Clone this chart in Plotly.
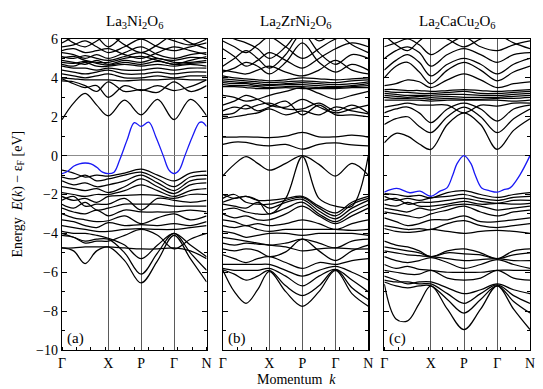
import plotly.graph_objects as go

# k-path positions (fraction of path length) and tick labels
K = [0.0, 0.08, 0.16, 0.24, 0.32, 0.433, 0.547, 0.661, 0.775, 0.8875, 1.0]
TICK_POS = [0.0, 0.32, 0.547, 0.775, 1.0]
TICK_LABELS = ["Γ", "X", "P", "Γ", "N"]
TITLES = ["La<sub>3</sub>Ni<sub>2</sub>O<sub>6</sub>",
          "La<sub>2</sub>ZrNi<sub>2</sub>O<sub>6</sub>",
          "La<sub>2</sub>CaCu<sub>2</sub>O<sub>6</sub>"]
PANEL_TAGS = ["(a)", "(b)", "(c)"]

# ---- panel (a) La3Ni2O6 ----
BANDS_A = [
    [6.2, 5.8, 5.6, 5.9, 6.2, 5.7, 5.3, 5.7, 6.2, 5.8, 5.5],
    [5.8, 6.1, 6.3, 6.1, 5.6, 6.2, 6.4, 6.2, 5.9, 5.7, 6.0],
    [5.6, 5.7, 5.9, 5.6, 5.3, 5.6, 6.0, 5.6, 5.4, 5.6, 5.8],
    [5.4, 5.5, 5.3, 5.4, 5.5, 5.2, 5.0, 5.3, 5.6, 5.4, 5.2],
    [5.3, 5.2, 5.0, 5.2, 5.0, 5.3, 5.6, 5.2, 5.0, 5.2, 5.3],
    [5.1, 5.0, 5.15, 5.0, 4.9, 5.1, 5.3, 5.0, 4.9, 5.05, 5.0],
    [5.0, 5.1, 4.9, 4.8, 4.8, 5.0, 5.1, 4.9, 4.7, 4.9, 5.1],
    [4.9, 4.8, 4.7, 4.9, 4.7, 4.9, 4.8, 5.0, 4.8, 4.8, 4.9],
    [4.8, 4.75, 4.85, 4.75, 4.65, 4.8, 4.7, 4.85, 4.7, 4.75, 4.8],
    [4.7, 4.6, 4.8, 4.6, 4.6, 4.7, 4.6, 4.7, 4.6, 4.7, 4.6],
    [4.6, 4.5, 4.5, 4.4, 4.5, 4.4, 4.4, 4.5, 4.4, 4.5, 4.5],
    [4.4, 4.3, 4.2, 4.3, 4.4, 4.2, 4.2, 4.3, 4.2, 4.3, 4.3],
    [4.2, 4.1, 4.0, 4.1, 4.2, 4.0, 4.0, 4.1, 4.0, 4.1, 4.1],
    [4.0, 3.95, 3.9, 3.9, 3.9, 3.85, 3.9, 3.9, 3.95, 3.9, 3.9],
    [3.95, 3.7, 3.5, 3.6, 3.0, 3.6, 3.35, 3.6, 3.35, 3.55, 3.9],
    [3.85, 3.8, 3.6, 3.3, 3.8, 3.3, 3.4, 3.25, 3.8, 3.3, 3.6],
    [1.85, 2.7, 3.2, 2.6, 2.05, 2.85, 2.1, 2.9, 1.85, 2.9, 2.05],
    [-0.75, -0.9, -1.1, -1.0, -1.05, -0.9, -0.7, -1.0, -1.3, -0.9, -0.8],
    [-1.1, -1.2, -1.0, -1.3, -1.2, -1.0, -0.85, -1.2, -1.6, -1.1, -1.0],
    [-1.3, -1.5, -1.4, -1.6, -1.5, -1.3, -1.0, -1.4, -1.8, -1.3, -1.2],
    [-1.6, -1.7, -1.8, -1.7, -1.9, -1.6, -1.2, -1.6, -1.95, -1.5, -1.4],
    [-1.9, -2.0, -2.1, -2.0, -2.0, -1.8, -1.5, -1.8, -2.1, -1.8, -1.7],
    [-2.1, -2.3, -2.2, -2.4, -2.1, -2.05, -2.0, -2.05, -2.2, -2.0, -2.0],
    [-2.3, -2.1, -2.6, -2.5, -2.5, -2.2, -2.8, -2.2, -2.3, -2.4, -2.3],
    [-2.5, -2.7, -2.4, -2.8, -2.7, -2.5, -2.5, -2.5, -2.6, -2.6, -2.6],
    [-2.7, -2.9, -3.0, -2.8, -3.1, -2.8, -2.9, -2.9, -2.9, -2.8, -2.9],
    [-3.0, -3.2, -3.3, -3.4, -3.35, -3.1, -3.5, -3.2, -3.0, -3.3, -3.1],
    [-3.3, -3.4, -3.6, -3.7, -3.45, -3.6, -3.55, -3.6, -3.5, -3.6, -3.4],
    [-3.6, -3.7, -3.8, -3.9, -3.9, -3.8, -3.75, -3.8, -3.8, -3.7, -3.6],
    [-3.9, -4.0, -4.0, -4.1, -4.25, -4.6, -5.3, -4.6, -4.0, -4.6, -5.2],
    [-4.0, -4.2, -4.4, -4.3, -4.3, -5.0, -6.1, -5.0, -4.0, -5.0, -5.9],
    [-4.75, -4.9, -5.55, -4.9, -4.7, -5.4, -6.55, -5.4, -4.1, -5.3, -6.5],
    [-4.75, -4.75, -4.7, -4.7, -4.7, -4.75, -4.8, -4.8, -4.75, -4.9, -5.3],
    [-4.1, -4.2, -4.5, -4.4, -4.4, -4.1, -3.8, -4.1, -4.8, -4.3, -4.0],
]
BLUE_A_K = [0.0, 0.04, 0.08, 0.12, 0.16, 0.2, 0.24, 0.28, 0.32, 0.36, 0.4, 0.45,
            0.5, 0.547, 0.6, 0.65, 0.7, 0.74, 0.775, 0.81, 0.85, 0.9, 0.95, 0.97, 1.0]
BLUE_A = [-0.93, -0.8, -0.55, -0.42, -0.38, -0.42, -0.6, -0.85, -0.93, -0.85, -0.2, 0.8,
          1.7, 1.5, 1.72, 0.95, 0.0, -0.75, -0.93, -0.75, 0.0, 0.95, 1.7, 1.72, 1.5]

# ---- panel (b) La2ZrNi2O6 ----
BANDS_B = [
    [6.3, 6.0, 5.8, 5.5, 5.0, 5.6, 6.5, 5.9, 6.3, 5.7, 5.3],
    [5.9, 5.6, 5.3, 5.7, 6.1, 5.6, 5.0, 5.5, 6.0, 6.2, 6.0],
    [5.5, 5.1, 4.6, 4.9, 5.3, 4.9, 4.5, 5.0, 5.5, 5.8, 5.6],
    [4.6, 5.0, 5.4, 5.0, 4.5, 5.2, 6.3, 5.3, 4.7, 5.2, 5.0],
    [4.3, 4.5, 4.8, 4.6, 4.2, 4.8, 5.8, 4.8, 4.3, 4.7, 4.4],
    [4.4, 4.3, 4.2, 4.4, 4.6, 4.3, 4.1, 4.4, 4.9, 4.4, 4.2],
    [4.1, 4.0, 3.95, 3.9, 3.85, 3.9, 4.0, 3.95, 3.9, 3.95, 4.0],
    [3.95, 3.9, 3.85, 3.8, 3.75, 3.8, 3.85, 3.8, 3.75, 3.85, 3.9],
    [3.85, 3.8, 3.75, 3.7, 3.65, 3.7, 3.75, 3.7, 3.65, 3.7, 3.8],
    [3.75, 3.7, 3.7, 3.6, 3.6, 3.65, 3.65, 3.6, 3.55, 3.6, 3.7],
    [3.65, 3.6, 3.6, 3.55, 3.5, 3.55, 3.55, 3.5, 3.5, 3.55, 3.6],
    [3.55, 3.55, 3.5, 3.45, 3.45, 3.5, 3.45, 3.45, 3.45, 3.5, 3.5],
    [3.1, 3.0, 2.8, 2.9, 3.1, 3.3, 3.5, 3.2, 2.9, 3.1, 3.3],
    [2.6, 2.8, 3.1, 2.9, 2.6, 2.5, 2.9, 2.5, 2.2, 2.4, 2.6],
    [2.3, 2.5, 2.4, 2.6, 2.7, 2.4, 2.4, 2.7, 2.3, 2.6, 2.2],
    [2.1, 2.2, 2.6, 2.3, 2.5, 2.8, 2.1, 2.6, 2.1, 2.1, 2.0],
    [1.9, 2.0, 2.1, 2.2, 2.4, 2.1, 2.3, 2.1, 2.5, 2.3, 2.15],
    [0.95, 0.95, 0.97, 0.95, 0.93, 1.0, 1.2, 0.97, 0.97, 1.05, 0.95],
    [0.58, 0.7, 0.68, 0.55, 0.5, 0.58, 0.33, 0.58, 0.65, 0.55, 0.5],
    [-1.05, -0.45, -0.05, -0.4, -0.75, -0.4, 0.0, -0.45, -1.05, -0.4, -1.0],
    [-2.4, -2.2, -2.1, -2.3, -3.0, -2.2, -0.05, -2.2, -2.6, -2.6, 0.0],
    [-2.0, -2.2, -2.1, -2.3, -2.3, -2.2, -2.1, -2.6, -2.95, -2.4, -2.1],
    [-2.2, -2.0, -2.4, -2.5, -2.5, -2.3, -2.15, -2.7, -3.1, -2.5, -2.2],
    [-2.5, -2.6, -2.7, -2.4, -2.7, -2.4, -2.25, -2.85, -3.25, -2.7, -2.3],
    [-2.8, -2.7, -2.9, -3.0, -3.0, -2.7, -2.4, -3.0, -3.4, -2.9, -2.5],
    [-3.0, -3.2, -3.1, -3.3, -3.3, -3.0, -2.6, -3.1, -3.5, -3.1, -2.7],
    [-3.3, -3.4, -3.6, -3.5, -3.6, -3.5, -3.3, -3.5, -3.8, -3.5, -3.3],
    [-3.6, -3.7, -3.6, -3.8, -3.9, -3.8, -3.8, -3.8, -3.8, -3.85, -3.8],
    [-3.9, -4.0, -4.2, -4.1, -4.0, -4.0, -4.1, -4.0, -4.0, -4.0, -4.1],
    [-4.2, -4.3, -4.4, -4.5, -4.6, -4.5, -4.3, -4.5, -4.75, -4.4, -4.3],
    [-4.5, -4.6, -4.5, -4.55, -4.6, -4.7, -4.9, -4.8, -4.75, -4.8, -4.8],
    [-4.8, -4.9, -4.8, -4.9, -5.2, -4.95, -4.3, -4.9, -5.4, -4.9, -4.6],
    [-5.1, -5.3, -5.5, -5.3, -5.2, -5.5, -5.8, -5.5, -5.6, -5.4, -5.3],
    [-5.6, -5.6, -5.6, -5.6, -5.6, -5.9, -6.2, -5.9, -5.7, -6.0, -6.4],
    [-5.8, -5.9, -5.9, -5.9, -5.8, -6.2, -6.7, -6.2, -5.85, -6.4, -7.0],
    [-5.87, -6.1, -6.4, -6.2, -5.9, -6.7, -7.2, -6.7, -5.87, -6.8, -7.4],
    [-5.87, -7.0, -7.6, -6.9, -5.95, -7.0, -7.75, -7.0, -5.9, -7.1, -7.75],
]

# ---- panel (c) La2CaCu2O6 ----
BANDS_C = [
    [6.2, 5.7, 5.4, 5.9, 6.3, 6.0, 5.6, 6.0, 6.2, 5.8, 5.5],
    [5.6, 5.8, 6.0, 5.7, 5.2, 5.7, 6.1, 5.6, 5.4, 5.7, 5.9],
    [5.0, 5.4, 5.6, 5.3, 4.6, 5.2, 5.5, 5.2, 4.8, 5.2, 5.3],
    [4.4, 4.9, 5.2, 4.8, 4.1, 4.7, 5.0, 4.7, 4.2, 4.7, 5.0],
    [4.0, 4.6, 4.8, 4.3, 3.7, 4.4, 4.8, 4.4, 3.85, 4.3, 4.6],
    [3.6, 3.7, 3.9, 3.8, 3.5, 3.9, 4.2, 3.9, 3.5, 3.7, 3.8],
    [3.4, 3.4, 3.35, 3.35, 3.3, 3.35, 3.4, 3.35, 3.3, 3.35, 3.4],
    [3.3, 3.25, 3.25, 3.2, 3.2, 3.25, 3.3, 3.2, 3.2, 3.25, 3.3],
    [3.2, 3.15, 3.1, 3.1, 3.1, 3.15, 3.15, 3.1, 3.1, 3.15, 3.2],
    [3.1, 3.05, 3.0, 3.05, 3.0, 3.05, 3.0, 3.0, 3.0, 3.05, 3.1],
    [3.0, 2.95, 2.95, 2.95, 2.9, 2.95, 2.9, 2.9, 2.95, 2.95, 3.0],
    [2.85, 2.85, 2.85, 2.85, 2.8, 2.85, 2.85, 2.85, 2.85, 2.8, 2.85],
    [2.5, 2.6, 2.7, 2.6, 2.6, 2.6, 2.2, 2.6, 2.55, 2.7, 2.7],
    [2.2, 2.4, 2.5, 2.2, 1.7, 2.4, 2.7, 2.4, 1.78, 2.4, 2.6],
    [1.6, 1.9, 2.0, 1.5, 1.18, 2.0, 2.5, 2.0, 1.18, 1.9, 2.4],
    [0.66, 1.15, 1.0, 0.6, 0.32, 1.6, 2.2, 1.6, 0.32, 1.3, 1.9],
    [-1.95, -2.0, -2.1, -2.05, -2.17, -1.9, -1.8, -2.0, -2.15, -2.0, -1.9],
    [-2.1, -2.3, -2.2, -2.3, -2.17, -2.1, -2.0, -2.2, -2.3, -2.15, -2.1],
    [-2.3, -2.2, -2.5, -2.4, -2.4, -2.3, -2.2, -2.35, -2.45, -2.3, -2.3],
    [-2.5, -2.6, -2.4, -2.6, -2.6, -2.5, -2.35, -2.5, -2.45, -2.5, -2.45],
    [-2.7, -2.8, -2.9, -2.7, -2.8, -2.6, -2.5, -2.6, -2.8, -2.7, -2.6],
    [-2.9, -3.0, -3.1, -3.2, -3.0, -2.8, -2.6, -2.9, -3.1, -2.9, -2.8],
    [-3.2, -3.4, -3.6, -3.5, -3.3, -3.3, -3.1, -3.4, -3.4, -3.3, -3.2],
    [-3.6, -3.7, -3.8, -3.75, -3.8, -3.5, -3.35, -3.6, -3.7, -3.6, -3.5],
    [-3.75, -3.9, -3.95, -3.9, -3.8, -3.9, -4.0, -3.9, -3.85, -3.9, -4.0],
    [-4.4, -4.6, -4.7, -4.9, -5.2, -4.9, -4.8, -5.0, -5.3, -4.9, -4.8],
    [-4.7, -4.8, -4.9, -5.0, -5.2, -5.0, -5.05, -5.1, -5.3, -5.1, -5.0],
    [-4.9, -5.0, -5.1, -5.15, -5.2, -5.3, -5.4, -5.35, -5.3, -5.4, -5.4],
    [-5.2, -5.4, -5.5, -5.4, -5.25, -5.5, -5.8, -5.6, -5.35, -5.6, -5.8],
    [-5.6, -5.8, -5.7, -5.85, -5.9, -6.0, -6.0, -6.0, -5.9, -5.9, -5.9],
    [-5.9, -6.0, -6.1, -6.1, -5.9, -6.3, -6.4, -6.3, -5.9, -6.3, -6.4],
    [-6.2, -6.4, -6.6, -6.5, -6.5, -6.8, -7.1, -6.9, -6.6, -6.9, -7.1],
    [-6.4, -6.5, -6.5, -6.6, -6.6, -7.1, -7.6, -7.1, -6.65, -7.2, -7.6],
    [-6.5, -6.7, -6.8, -6.7, -6.7, -7.4, -8.1, -7.4, -6.7, -7.5, -8.1],
    [-6.6, -8.4, -8.5, -7.6, -6.7, -7.9, -8.95, -7.9, -6.7, -7.9, -8.95],
]
BLUE_C_K = [0.0, 0.085, 0.176, 0.245, 0.318, 0.382, 0.43, 0.47, 0.5, 0.547, 0.594,
            0.624, 0.668, 0.72, 0.776, 0.82, 0.863, 0.93, 1.0]
BLUE_C = [-1.88, -1.69, -1.91, -1.83, -2.09, -1.83, -1.66, -1.0, -0.4, 0.0, -0.4,
          -1.0, -1.66, -1.8, -1.88, -1.75, -1.66, -1.0, 0.0]

FONT = "Liberation Serif, Times New Roman, serif"
BLUE = "rgb(25,25,245)"

fig = go.Figure()
panels = [(BANDS_A, BLUE_A_K, BLUE_A), (BANDS_B, None, None), (BANDS_C, BLUE_C_K, BLUE_C)]
domains = [[0.0, 0.309], [0.3434, 0.6545], [0.6887, 1.0]]

for i, (bands, bk, bv) in enumerate(panels):
    xa = "x" if i == 0 else f"x{i+1}"
    ya = "y" if i == 0 else f"y{i+1}"
    for b in bands:
        fig.add_trace(go.Scatter(x=K, y=b, mode="lines", xaxis=xa, yaxis=ya,
                                 line=dict(color="black", width=1.25, shape="spline", smoothing=1.0),
                                 showlegend=False, hoverinfo="skip"))
    if bk is not None:
        fig.add_trace(go.Scatter(x=bk, y=bv, mode="lines", xaxis=xa, yaxis=ya,
                                 line=dict(color=BLUE, width=1.3, shape="spline", smoothing=1.0),
                                 showlegend=False, hoverinfo="skip"))

layout = dict(
    width=543, height=389,
    margin=dict(l=62, r=13, t=39, b=39, autoexpand=False),
    paper_bgcolor="white", plot_bgcolor="white",
    font=dict(family=FONT, size=14, color="black"),
    showlegend=False,
)
for i in range(3):
    xkey = "xaxis" if i == 0 else f"xaxis{i+1}"
    ykey = "yaxis" if i == 0 else f"yaxis{i+1}"
    ya = "y" if i == 0 else f"y{i+1}"
    xa = "x" if i == 0 else f"x{i+1}"
    layout[xkey] = dict(
        domain=domains[i], anchor=ya, range=[0, 1], automargin=False,
        tickmode="array", tickvals=TICK_POS, ticktext=TICK_LABELS,
        ticks="", showgrid=True, gridcolor="rgb(90,90,90)", gridwidth=1,
        showline=True, linecolor="black", linewidth=1.2, mirror=True,
        zeroline=False, tickfont=dict(size=14, family=FONT),
        minor=dict(ticks="inside", tickmode="linear", tick0=0, dtick=0.1, ticklen=3,
                   tickcolor="black", showgrid=False),
    )
    layout[ykey] = dict(
        domain=[0, 1], anchor=xa, range=[-10, 6], automargin=False,
        tickmode="linear", tick0=-10, dtick=2,
        ticks="inside", ticklen=5, tickcolor="black",
        minor=dict(ticks="inside", dtick=1, ticklen=3, tickcolor="black"),
        showticklabels=(i == 0), showgrid=False,
        zeroline=True, zerolinecolor="rgb(140,140,140)", zerolinewidth=1.2,
        showline=True, linecolor="black", linewidth=1.2, mirror="allticks",
        tickfont=dict(size=14, family=FONT),
    )
fig.update_layout(**layout)

annotations = []
for i in range(3):
    xa = "x" if i == 0 else f"x{i+1}"
    ya = "y" if i == 0 else f"y{i+1}"
    annotations.append(dict(x=0.5, y=1.0, xref=f"{xa} domain", yref="paper", yshift=6,
                            text=TITLES[i], showarrow=False, yanchor="bottom",
                            font=dict(size=15, family=FONT)))
    annotations.append(dict(x=0.02, y=-9.95, xref=xa, yref=ya, text=PANEL_TAGS[i],
                            showarrow=False, xanchor="left", yanchor="bottom",
                            font=dict(size=15, family=FONT)))
annotations.append(dict(x=0.5, y=0, xref="paper", yref="paper", yshift=-29,
                        text="Momentum  <i>k</i>", showarrow=False, yanchor="middle",
                        font=dict(size=14, family=FONT)))
annotations.append(dict(x=0, y=0.5, xref="paper", yref="paper", xshift=-44,
                        text="Energy  <i>E</i>(<i>k</i>) − ε<sub>F</sub> [eV]",
                        textangle=-90, showarrow=False, xanchor="center", yanchor="middle",
                        font=dict(size=14, family=FONT)))
fig.update_layout(annotations=annotations)

fig.write_html("out.html", config={"displayModeBar": False, "staticPlot": True},
               post_script="document.body.style.margin='0px';document.body.style.overflow='hidden';")
